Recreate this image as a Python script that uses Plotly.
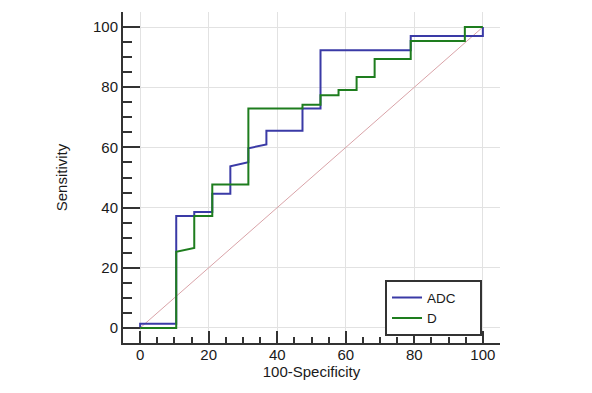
import plotly.graph_objects as go

# ROC curve data (100-Specificity, Sensitivity)
adc_x = [0, 0, 10.53, 10.53, 15.79, 15.79, 21.05, 21.05, 26.32, 26.32, 31.58, 31.58,
         36.84, 36.84, 47.37, 47.37, 52.63, 52.63, 78.95, 78.95, 100, 100]
adc_y = [0, 1.4, 1.4, 37.2, 37.2, 38.5, 38.5, 44.6, 44.6, 53.7, 55.1, 59.7,
         61.0, 65.5, 65.5, 72.9, 72.9, 92.3, 92.3, 97.0, 97.0, 100]

d_x = [0, 10.53, 10.53, 15.79, 15.79, 21.05, 21.05, 31.58, 31.58, 47.37, 47.37,
       52.63, 52.63, 57.89, 57.89, 63.16, 63.16, 68.42, 68.42, 78.95, 78.95,
       94.74, 94.74, 100]
d_y = [0, 0, 25.3, 26.6, 37.2, 37.2, 47.7, 47.7, 72.9, 72.9, 74.2,
       74.2, 77.3, 77.3, 79.1, 79.1, 83.4, 83.4, 89.4, 89.4, 95.4,
       95.4, 100, 100]

ref_x = [0, 100]
ref_y = [0, 100]

tick_vals = [0, 20, 40, 60, 80, 100]
tick_text = ["0", "20", "40", "60", "80", "100"]

series_names = ["ADC", "D"]

FONT = "Liberation Sans, Arial, sans-serif"
PAD = "\u00a0" * 5

fig = go.Figure()
fig.add_trace(go.Scatter(x=ref_x, y=ref_y, mode="lines",
                         line=dict(color="#d9a3a8", width=1),
                         showlegend=False, hoverinfo="skip"))
fig.add_trace(go.Scatter(x=adc_x, y=adc_y, mode="lines", name=series_names[0] + PAD,
                         line=dict(color="#3a3aa6", width=2)))
fig.add_trace(go.Scatter(x=d_x, y=d_y, mode="lines", name=series_names[1] + PAD,
                         line=dict(color="#1e7d1e", width=2)))

# the page body has an 8px default margin; margins compensate for it
fig.update_layout(
    width=592, height=393,
    margin=dict(l=115, r=100, t=4, b=58),
    paper_bgcolor="white", plot_bgcolor="white",
    font=dict(family=FONT, size=15, color="#1a1a1a"),
    legend=dict(x=0.695, y=0.105, xanchor="left", yanchor="middle",
                bordercolor="#333333", borderwidth=2, bgcolor="white",
                font=dict(family=FONT, size=13.5, color="#1a1a1a"),
                itemwidth=30, tracegroupgap=0),
)
fig.update_xaxes(
    range=[-5, 105], tickvals=tick_vals, ticktext=tick_text,
    showgrid=True, gridcolor="#e2e2e2", gridwidth=1, zeroline=False,
    showline=True, linecolor="#333333", linewidth=2,
    ticks="inside", ticklen=12, tickwidth=2, tickcolor="#333333",
    ticklabelstandoff=-3,
    minor=dict(dtick=5, tick0=0, ticks="inside", ticklen=6, tickwidth=1.5,
               tickcolor="#333333", showgrid=False),
    title=dict(text="100-Specificity", font=dict(size=15), standoff=4),
    fixedrange=True,
)
fig.update_yaxes(
    range=[-5, 105], tickvals=tick_vals, ticktext=tick_text,
    showgrid=True, gridcolor="#e2e2e2", gridwidth=1, zeroline=False,
    showline=True, linecolor="#333333", linewidth=2,
    ticks="inside", ticklen=17, tickwidth=2, tickcolor="#333333",
    minor=dict(dtick=5, tick0=0, ticks="inside", ticklen=9, tickwidth=1.5,
               tickcolor="#333333", showgrid=False),
    title=dict(text="Sensitivity", font=dict(size=15), standoff=22),
    fixedrange=True,
)

fig.write_html("out.html")
